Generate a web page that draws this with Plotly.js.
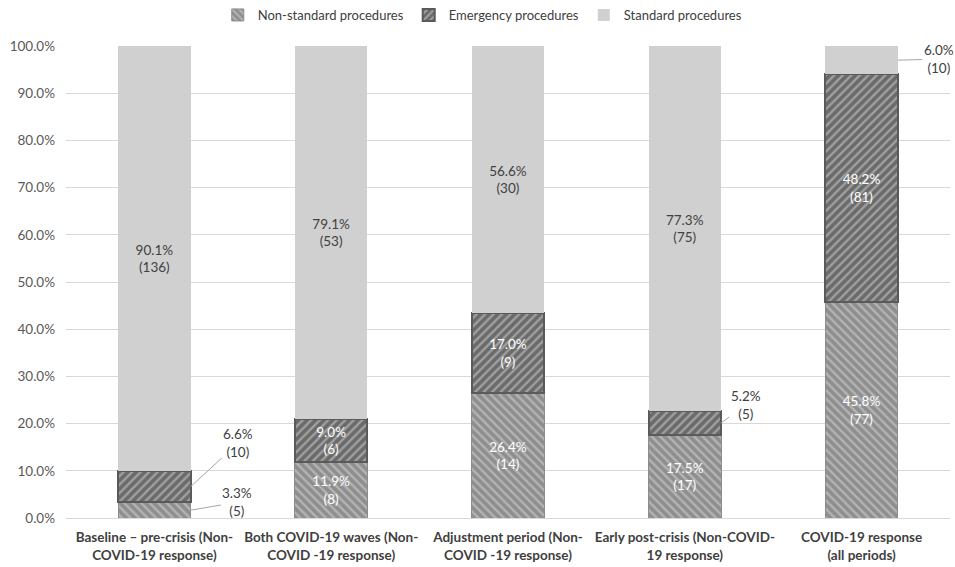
<!DOCTYPE html>
<html>
<head>
<meta charset="utf-8">
<script src="https://cdn.plot.ly/plotly-3.0.1.min.js"></script>
<style>html,body{margin:0;padding:0;background:#fff;}#chart{width:955px;height:567px;}</style>
</head>
<body>
<div id="chart"></div>
<script>
const categories = [
  "Baseline – pre-crisis (Non-<br>COVID-19 response)",
  "Both COVID-19 waves (Non-<br>COVID -19 response)",
  "Adjustment period (Non-<br>COVID -19 response)",
  "Early post-crisis (Non-COVID-<br>19 response)",
  "COVID-19 response<br>(all periods)"
];
const seriesNames = ["Non-standard procedures", "Emergency procedures", "Standard procedures"];
const nonStandardPct = [3.3, 11.9, 26.4, 17.5, 45.8];
const emergencyPct   = [6.6, 9.0, 17.0, 5.2, 48.2];
const standardPct    = [90.1, 79.1, 56.6, 77.3, 6.0];
const nonStandardN = [5, 8, 14, 17, 77];
const emergencyN   = [10, 6, 9, 5, 81];
const standardN    = [136, 53, 30, 75, 10];

const FONT = "Lato, 'Open Sans', sans-serif";
const SMALL = 7; // segments below this get an outside callout

function labels(pcts, ns) {
  return pcts.map((p, i) => p < SMALL ? "" : p.toFixed(1) + "%<br>(" + ns[i] + ")");
}

const styles = [
  {bg: "#8e8e8e", fg: "#b4b4b4", line: "#8c8c8c", lw: 1, shape: "\\", txt: "#ffffff"},
  {bg: "#6a6a6a", fg: "#a0a0a0", line: "#5a5a5a", lw: 2, shape: "/", txt: "#ffffff"},
  {bg: "#d0d0d0", fg: "#d0d0d0", line: "#d0d0d0", lw: 0, shape: "", txt: "#404040"}
];
const pctSets = [nonStandardPct, emergencyPct, standardPct];
const nSets = [nonStandardN, emergencyN, standardN];

const traces = pctSets.map((pcts, k) => ({
  type: "bar",
  name: seriesNames[k],
  x: categories,
  y: pcts,
  text: labels(pcts, nSets[k]),
  textposition: "inside",
  insidetextanchor: "middle",
  textangle: 0,
  textfont: {family: FONT, size: 13.5, color: styles[k].txt},
  hoverinfo: "skip",
  marker: {
    color: styles[k].bg,
    line: {color: styles[k].line, width: styles[k].lw},
    pattern: styles[k].shape ? {shape: styles[k].shape, bgcolor: styles[k].bg, fgcolor: styles[k].fg, size: 6, solidity: 0.4, fillmode: "replace"} : {shape: ""}
  }
}));

// callouts for small segments
const offsets = {
  "0-0": [47, -8], "0-1": [48, -44], "3-1": [25, -18], "4-2": [41, -1]
};
const annotations = [];
pctSets.forEach((pcts, k) => {
  pcts.forEach((p, i) => {
    if (p >= SMALL) return;
    let base = 0;
    for (let j = 0; j < k; j++) base += pctSets[j][i];
    const off = offsets[i + "-" + k] || [40, -20];
    annotations.push({
      x: categories[i], y: base + p / 2, xref: "x", yref: "y",
      xshift: 36,
      text: p.toFixed(1) + "%<br>(" + nSets[k][i] + ")",
      showarrow: true, arrowhead: 0, arrowwidth: 1, arrowcolor: "#a6a6a6",
      ax: off[0], ay: off[1],
      font: {family: FONT, size: 13.5, color: "#404040"},
      align: "center"
    });
  });
});

const layout = {
  width: 955, height: 567,
  margin: {l: 66, r: 5, t: 46, b: 49},
  paper_bgcolor: "#ffffff", plot_bgcolor: "#ffffff",
  barmode: "stack",
  bargap: 0.59,
  font: {family: FONT, size: 13, color: "#404040"},
  showlegend: true,
  legend: {orientation: "h", x: 0.505, xref: "container", xanchor: "center", y: 1.0, yref: "container", yanchor: "top",
           font: {family: FONT, size: 13, color: "#404040"}, traceorder: "normal", itemwidth: 30},
  xaxis: {
    type: "category",
    range: [-0.5, categories.length - 0.5], autorange: false,
    tickfont: {family: FONT, size: 13.5, color: "#404040", weight: "bold"},
    showline: true, linecolor: "#d9d9d9", linewidth: 1,
    ticks: "outside", ticklen: 7, tickcolor: "rgba(0,0,0,0)",
    showgrid: false, fixedrange: true
  },
  yaxis: {
    range: [0, 100], autorange: false, dtick: 10, tick0: 0,
    tickformat: ".1f", ticksuffix: "%",
    tickfont: {family: FONT, size: 13.5, color: "#595959"},
    showgrid: true, gridcolor: "#d9d9d9", gridwidth: 1,
    zeroline: true, zerolinecolor: "#d9d9d9",
    ticks: "", ticklabelstandoff: 10, fixedrange: true
  },
  annotations: annotations
};

Plotly.newPlot("chart", traces, layout, {displayModeBar: false, staticPlot: true});
</script>
</body>
</html>
